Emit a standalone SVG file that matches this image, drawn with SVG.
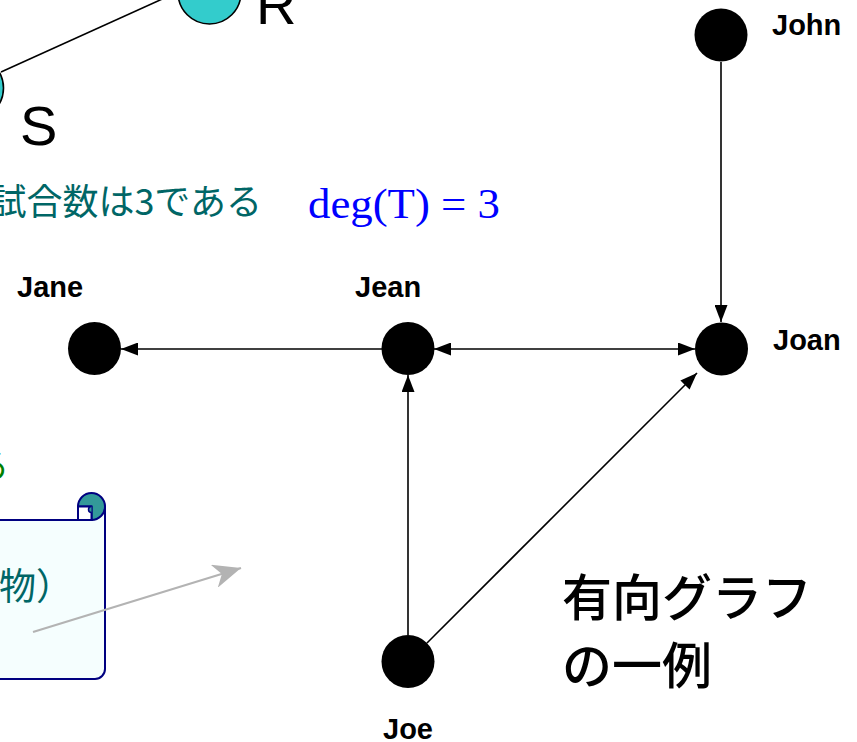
<svg xmlns="http://www.w3.org/2000/svg" width="857" height="742" viewBox="0 0 857 742">
<style>
.node{fill:#000}
.lbl{font-family:"Liberation Sans",Arial,sans-serif;font-weight:bold;font-size:29px;fill:#000}
.edge{stroke:#000;stroke-width:1.6;fill:none}
.big{font-family:"Liberation Sans","Noto Sans CJK JP",sans-serif;font-size:56px;fill:#000}
.jp{font-family:"Noto Sans CJK JP",sans-serif}
</style>
<defs>
<marker id="ah" viewBox="0 0 17 13" refX="17" refY="6.5" markerWidth="17" markerHeight="13" markerUnits="userSpaceOnUse" orient="auto-start-reverse">
<path d="M0,0 L17,6.5 L0,13 Z" fill="#000"/>
</marker>
<marker id="gah" viewBox="0 0 28 24" refX="28" refY="12" markerWidth="28" markerHeight="24" markerUnits="userSpaceOnUse" orient="auto">
<path d="M0,0 L28,12 L0,24 L8,12 Z" fill="#B3B3B3"/>
</marker>
</defs>
<rect width="857" height="742" fill="#fff"/>

<g id="undirected">
<line x1="1" y1="72" x2="180" y2="-9" stroke="#000" stroke-width="1.6"/>
<circle id="R" cx="209.5" cy="-7.5" r="31.5" fill="#33CCCC" stroke="#000" stroke-width="1.6"/>
<circle id="S" cx="-28" cy="88" r="31.5" fill="#33CCCC" stroke="#000" stroke-width="1.6"/>
<text x="256" y="24" class="big">R</text>
<text x="20" y="145" class="big">S</text>
</g>

<g id="texts">
<text x="262" y="215" text-anchor="end" class="jp" font-size="36" fill="#006666">試合数は3である</text>
<text x="308" y="218" font-family="'Liberation Serif','Times New Roman',serif" font-size="43" fill="#0000FF" textLength="192" lengthAdjust="spacingAndGlyphs">deg(T) = 3</text>
<text x="9" y="478" text-anchor="end" class="jp" font-size="34" fill="#008000">る</text>
</g>

<g id="scroll">
<path d="M-10,520 H91.5 V506.5 H105 V669 A10,10 0 0 1 95,679 H-10 Z" fill="#F5FEFE" stroke="#000080" stroke-width="2"/>
<path d="M78,506.5 A13.5,13.5 0 1 1 91.5,520 V506.5 Z" fill="#339999" stroke="#000080" stroke-width="2" stroke-linejoin="round"/>
<rect x="78" y="506.5" width="13.5" height="13.5" fill="#fff" stroke="#000080" stroke-width="2"/>
<path d="M91.5,506.5 A3,3 0 0 0 91.5,512.5" fill="#339999" stroke="#000080" stroke-width="1.5"/>
<text x="-1" y="600" class="jp" font-size="37" fill="#006666">物）</text>
</g>

<line id="pointer" x1="33" y1="632" x2="241" y2="568" stroke="#B3B3B3" stroke-width="2.2" marker-end="url(#gah)"/>

<g id="connectors">
<line class="edge" x1="382" y1="349" x2="121" y2="349" marker-end="url(#ah)"/>
<line class="edge" x1="434" y1="349" x2="695" y2="349" marker-start="url(#ah)" marker-end="url(#ah)"/>
<line class="edge" x1="721" y1="62" x2="721" y2="322" marker-end="url(#ah)"/>
<line class="edge" x1="408" y1="635" x2="408" y2="375" marker-end="url(#ah)"/>
<line class="edge" x1="427" y1="643" x2="697" y2="373" marker-end="url(#ah)"/>
</g>

<g id="John"><circle class="node" cx="721" cy="35" r="26.5"/><text class="lbl" x="772" y="35">John</text></g>
<g id="Joan"><circle class="node" cx="721.5" cy="349" r="26.5"/><text class="lbl" x="773" y="350">Joan</text></g>
<g id="Jane"><circle class="node" cx="94.5" cy="348.5" r="26.5"/><text class="lbl" x="17" y="297">Jane</text></g>
<g id="Jean"><circle class="node" cx="408" cy="348.5" r="26.5"/><text class="lbl" x="355" y="297">Jean</text></g>
<g id="Joe"><circle class="node" cx="408" cy="661.5" r="26.5"/><text class="lbl" x="383" y="739">Joe</text></g>

<g id="caption" class="jp" font-size="50" font-weight="500" fill="#000">
<text x="562" y="616">有向グラフ</text>
<text x="562" y="684">の一例</text>
</g>
</svg>
